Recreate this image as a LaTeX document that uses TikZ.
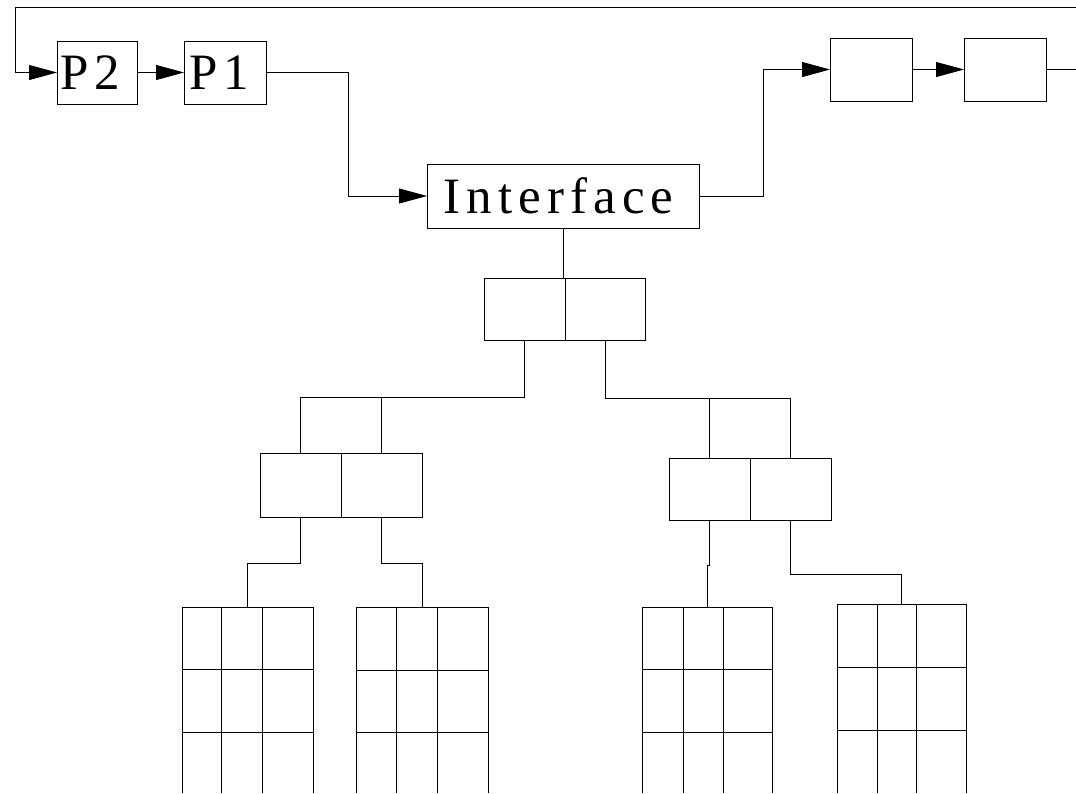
\documentclass[tikz,border=0pt]{standalone}
\usepackage{fontspec}
\setmainfont{Liberation Serif}
\newfontfamily\labelfont[LetterSpace=12]{Liberation Serif}
\usetikzlibrary{arrows.meta}

% draws an open-bottom 3x3 table whose frame is the node #1
% #2,#3: inner column x positions; #4,#5: inner row y positions
\newcommand\tablelines[5]{%
  \draw (#1.south west) -- (#1.north west) -- (#1.north east) -- (#1.south east);
  \draw (#2,0 |- #1.north) -- (#2,0 |- #1.south);
  \draw (#3,0 |- #1.north) -- (#3,0 |- #1.south);
  \draw (#1.west |- 0,#4) -- (#1.east |- 0,#4);
  \draw (#1.west |- 0,#5) -- (#1.east |- 0,#5);
}

\begin{document}
\begin{tikzpicture}[x=1pt,y=-1pt,line width=0.8pt,
  blk/.style={draw, rectangle, inner sep=0pt, outer sep=0pt, anchor=north west},
  frame/.style={rectangle, inner sep=0pt, outer sep=0pt, anchor=north west},
  txt/.style={inner sep=0pt, anchor=base west, font=\fontsize{51}{51}\selectfont\labelfont},
  arr/.style={-{Triangle[length=28pt,width=15pt]}}]
\useasboundingbox (0,0) rectangle (1076,793);

% process chain
\node[blk, minimum width=80pt, minimum height=63pt] (P2) at (57,41) {};
\node[blk, minimum width=82pt, minimum height=63pt] (P1) at (184,41) {};
\node[txt] (P2t) at (60,89) {P2};
\node[txt] (P1t) at (189,89) {P1};
\node[blk, minimum width=272pt, minimum height=64pt] (If) at (427,164) {};
\node[txt] (Ift) at (443,213) {Interface};
\node[blk, minimum width=82pt, minimum height=63pt] (B1) at (830,38) {};
\node[blk, minimum width=82pt, minimum height=63pt] (B2) at (964,38) {};

\coordinate (edgeT) at (1076,7);
\coordinate (fbcorner) at (15,7);

\draw[arr] (edgeT) -- (fbcorner) |- (P2.west);
\draw[arr] (P2.east) -- (P1.west);
\draw[arr] (P1.east) -- ++(82,0) |- (If.west);
\draw[arr] (If.east) -- ++(64,0) |- (B1.west);
\draw[arr] (B1.east) -- (B2.west);
\draw (B2.east) -- (B2.east -| edgeT);

% tree of paired cells
\node[blk, minimum width=81pt, minimum height=62pt] (TL) at (484,278) {};
\node[blk, minimum width=80pt, minimum height=62pt] (TR) at (565,278) {};
\node[blk, minimum width=81pt, minimum height=64pt] (LL) at (260,453) {};
\node[blk, minimum width=81pt, minimum height=64pt] (LR) at (341,453) {};
\node[blk, minimum width=81pt, minimum height=62pt] (RL) at (669,458) {};
\node[blk, minimum width=81pt, minimum height=62pt] (RR) at (750,458) {};

\draw (If.south) -- (If.south |- TL.north);

\coordinate (jl) at (LL.north |- 0,397);
\coordinate (jr) at (RR.north |- 0,398);
\draw (TL.south) |- (jl) -- (LL.north);
\draw (LR.north) -- (LR.north |- jl);
\draw (TR.south) |- (jr) -- (RR.north);
\draw (RL.north) -- (RL.north |- jr);

% open tables at the bottom
\node[frame, minimum width=131pt, minimum height=186pt] (G1) at (182,607) {};
\node[frame, minimum width=132pt, minimum height=186pt] (G2) at (356,607) {};
\node[frame, minimum width=130pt, minimum height=186pt] (G3) at (642,607) {};
\node[frame, minimum width=129pt, minimum height=189pt] (G4) at (837,604) {};

\tablelines{G1}{221}{262}{669}{732}
\tablelines{G2}{396}{437}{670}{732}
\tablelines{G3}{683}{723}{669}{732}
\tablelines{G4}{877}{916}{667}{730}

\draw (LL.south) -- ++(0,46) -| (G1.north);
\draw (LR.south) -- ++(0,46) -| (G2.north);
\draw (RL.south) -- ++(0,45) -| (G3.north);
\draw (RR.south) -- ++(0,54) -| (G4.north);
\end{tikzpicture}
\end{document}
